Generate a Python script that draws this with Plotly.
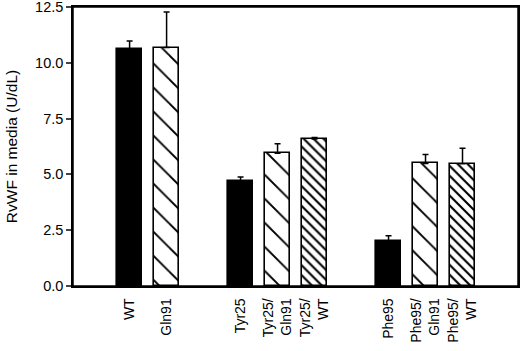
import plotly.graph_objects as go

labels = ["WT", "Gln91", "Tyr25", "Tyr25/<br>Gln91", "Tyr25/<br>WT", "Phe95", "Phe95/<br>Gln91", "Phe95/<br>WT"]
positions = [0, 1, 3, 4, 5, 7, 8, 9]
values = [10.6, 10.68, 4.7, 5.95, 6.59, 2.01, 5.49, 5.48]
errors = [0.38, 1.6, 0.18, 0.42, 0.06, 0.24, 0.40, 0.69]
fills = ["solid", "sparse", "solid", "sparse", "dense", "solid", "sparse", "dense"]

shape_map = {"solid": "", "sparse": "\\", "dense": "\\"}
size_map = {"solid": 8, "sparse": 17, "dense": 7}
solid_map = {"solid": 0.2, "sparse": 0.11, "dense": 0.3}
color_map = {"solid": "black", "sparse": "white", "dense": "white"}

fig = go.Figure()
for p, v, e, f in zip(positions, values, errors, fills):
    pat = None
    if f != "solid":
        pat = dict(shape=shape_map[f], size=size_map[f], solidity=solid_map[f],
                   fgcolor="black", bgcolor="white", fgopacity=1, fillmode="overlay")
    fig.add_trace(go.Bar(
        x=[p], y=[v], width=0.68,
        marker=dict(color=color_map[f], line=dict(color="black", width=1.6), pattern=pat),
        error_y=dict(type="data", array=[e], arrayminus=[0], symmetric=False,
                     color="black", thickness=1.5, width=3),
        showlegend=False,
    ))

fig.update_layout(
    width=520, height=351,
    margin=dict(l=73, r=2, t=7, b=65, autoexpand=False),
    paper_bgcolor="white", plot_bgcolor="white",
    font=dict(family="Liberation Sans, Arial, sans-serif", size=14, color="black"),
    bargap=0,
    shapes=[dict(type="rect", xref="paper", yref="paper", x0=0, x1=1, y0=0, y1=1,
                 line=dict(color="black", width=1.5), layer="above")],
)
fig.update_xaxes(
    range=[-1.53, 10.5], tickmode="array", tickvals=positions, ticktext=labels,
    tickangle=-90, showline=True, linecolor="black", linewidth=1.5, mirror=True,
    ticks="outside", ticklen=5, tickcolor="rgba(0,0,0,0)",
    showgrid=False, zeroline=False, tickfont=dict(size=14), automargin=False,
)
fig.update_yaxes(
    range=[0, 12.5], tickvals=[0, 2.5, 5, 7.5, 10, 12.5],
    ticktext=["0.0", "2.5", "5.0", "7.5", "10.0", "12.5"],
    showline=True, linecolor="black", linewidth=1.5, mirror=True,
    ticks="outside", ticklen=5, tickwidth=1.5, showgrid=False, zeroline=False,
    title=dict(text="RvWF in media (U/dL)", font=dict(size=15.5), standoff=14),
    tickfont=dict(size=14.5), automargin=False, ticklabeloverflow="allow",
)
fig.write_html("out.html", config={"displayModeBar": False},
               post_script="document.body.style.margin='0';")
